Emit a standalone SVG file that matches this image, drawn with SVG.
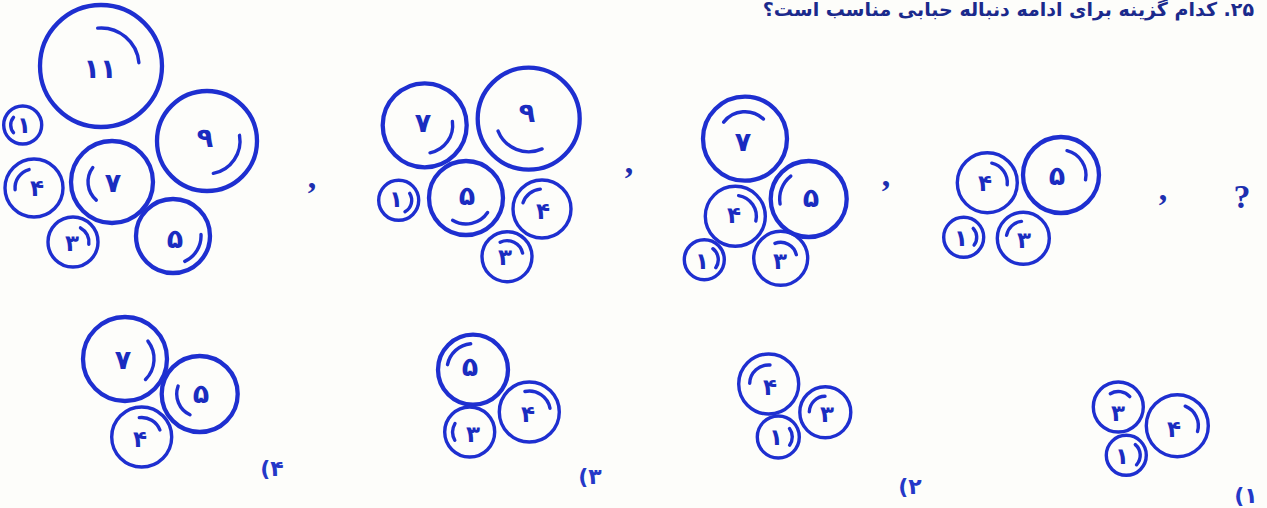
<svg xmlns="http://www.w3.org/2000/svg" width="1267" height="508" viewBox="0 0 1267 508">
<style>
.c{fill:none;stroke:#1e2fd0;stroke-width:3.4}
.cb{fill:none;stroke:#1e2fd0;stroke-width:4.3}
.a{fill:none;stroke:#1e2fd0;stroke-width:3.4;stroke-linecap:round}
.d{font-family:"DejaVu Sans",sans-serif;font-weight:bold;font-size:23px;fill:#1a2cc0;text-anchor:middle}
.db{font-size:27px}
.p{font-family:"Liberation Serif",serif;font-weight:bold;font-size:34px;fill:#1d2fb0;text-anchor:middle}
.o{font-family:"DejaVu Sans",sans-serif;font-weight:bold;font-size:22px;fill:#2438c8;text-anchor:middle;direction:ltr;unicode-bidi:bidi-override}
</style>
<rect width="1267" height="508" fill="#fdfdfa"/>
<text id="title" x="1254" y="16" direction="rtl" font-family="DejaVu Sans, sans-serif" font-weight="bold" font-size="19" fill="#1b2a8c">۲۵. کدام گزینه برای ادامه دنباله حبابی مناسب است؟</text>

<g id="s1">
<g id="s1-11"><circle class="cb" cx="101" cy="66" r="61"/><path class="a" d="M97.7,28.1 A38,38 0 0 1 138.9,62.7"/><text class="d db" x="100" y="78">۱۱</text></g>
<g id="s1-1"><circle class="c" cx="22.7" cy="125" r="19"/><path class="a" d="M13.5,132.7 A12,12 0 0 1 13.5,117.3"/><text class="d" x="24" y="133">۱</text></g>
<g id="s1-4"><circle class="c" cx="34" cy="188" r="29"/><path class="a" d="M15.1,189.7 A19,19 0 0 1 29.1,169.6"/><text class="d" x="37" y="196">۴</text></g>
<g id="s1-7"><circle class="cb" cx="112" cy="182" r="41"/><path class="a" d="M96.3,200.1 A24,24 0 0 1 92.8,167.6"/><text class="d db" x="113" y="192">۷</text></g>
<g id="s1-9"><circle class="cb" cx="207" cy="141" r="50"/><path class="a" d="M239.5,135.3 A33,33 0 0 1 213.3,173.4"/><text class="d db" x="205" y="147">۹</text></g>
<g id="s1-3"><circle class="c" cx="73" cy="242" r="25"/><path class="a" d="M80.5,227.9 A16,16 0 0 1 88.8,244.2"/><text class="d" x="72" y="251">۳</text></g>
<g id="s1-5"><circle class="cb" cx="173" cy="236" r="37"/><path class="a" d="M201,234.5 A28,28 0 0 1 184.8,261.4"/><text class="d db" x="175" y="248">۵</text></g>
</g>
<text class="p" x="312" y="188">,</text>

<g id="s2">
<g id="s2-7"><circle class="cb" cx="424.7" cy="125.3" r="42"/><path class="a" d="M452.4,121.4 A28,28 0 0 1 430,152.8"/><text class="d db" x="423" y="132">۷</text></g>
<g id="s2-9"><circle class="cb" cx="528.7" cy="118.7" r="51"/><path class="a" d="M542.1,148.9 A33,33 0 0 1 498.1,131.1"/><text class="d db" x="527" y="122">۹</text></g>
<g id="s2-1"><circle class="c" cx="398.7" cy="200.3" r="20"/><path class="a" d="M409.7,193.4 A13,13 0 0 1 405,211.7"/><text class="d" x="396" y="207">۱</text></g>
<g id="s2-5"><circle class="cb" cx="466" cy="198" r="37"/><path class="a" d="M487.6,212.5 A26,26 0 0 1 452.6,220.3"/><text class="d db" x="467" y="205">۵</text></g>
<g id="s2-4"><circle class="c" cx="542" cy="209" r="29"/><path class="a" d="M523,202.8 A20,20 0 0 1 540.3,189.1"/><text class="d" x="543" y="219">۴</text></g>
<g id="s2-3"><circle class="c" cx="507" cy="256.7" r="25"/><path class="a" d="M500.2,242.2 A16,16 0 0 1 522.6,253.1"/><text class="d" x="505" y="265">۳</text></g>
</g>
<text class="p" x="629" y="173">,</text>

<g id="s3">
<g id="s3-7"><circle class="cb" cx="745" cy="138.7" r="42"/><path class="a" d="M723.7,122.1 A27,27 0 0 1 763.4,119"/><text class="d db" x="743" y="151">۷</text></g>
<g id="s3-5"><circle class="cb" cx="808.7" cy="199" r="38"/><path class="a" d="M780.1,204 A29,29 0 0 1 790.8,176.1"/><text class="d db" x="811" y="207">۵</text></g>
<g id="s3-4"><circle class="c" cx="735.3" cy="216.3" r="30"/><path class="a" d="M738.6,195.6 A21,21 0 0 1 755.8,221"/><text class="d" x="734" y="223">۴</text></g>
<g id="s3-1"><circle class="c" cx="704.3" cy="259.7" r="20"/><path class="a" d="M712.9,248.7 A14,14 0 0 1 715.8,267.7"/><text class="d" x="702" y="269">۱</text></g>
<g id="s3-3"><circle class="c" cx="780.7" cy="258.3" r="27"/><path class="a" d="M775,243.4 A16,16 0 0 1 796.3,254.7"/><text class="d" x="780" y="269">۳</text></g>
</g>
<text class="p" x="886" y="186">,</text>

<g id="s4">
<g id="s4-4"><circle class="c" cx="987.3" cy="182.7" r="30"/><path class="a" d="M991.8,163.2 A20,20 0 0 1 1007.2,184.8"/><text class="d" x="985" y="191">۴</text></g>
<g id="s4-5"><circle class="cb" cx="1061" cy="175" r="38"/><path class="a" d="M1067,150.7 A25,25 0 0 1 1085.5,179.8"/><text class="d db" x="1057" y="185">۵</text></g>
<g id="s4-1"><circle class="c" cx="963.7" cy="237.3" r="20"/><path class="a" d="M973.2,228.4 A13,13 0 0 1 974.1,245.1"/><text class="d" x="961" y="246">۱</text></g>
<g id="s4-3"><circle class="c" cx="1023.3" cy="238.3" r="26"/><path class="a" d="M1006.6,235.3 A17,17 0 0 1 1021.5,221.4"/><text class="d" x="1024" y="248">۳</text></g>
</g>
<text class="p" x="1163" y="200">,</text>
<text class="p" x="1242" y="208" font-size="36" fill="#1a2a9a">?</text>

<g id="opt4">
<g id="o4-7"><circle class="cb" cx="125" cy="359" r="42"/><path class="a" d="M147.9,341.1 A29,29 0 0 1 145.5,379.5"/><text class="d db" x="123" y="369">۷</text></g>
<g id="o4-5"><circle class="cb" cx="199.7" cy="394" r="38"/><path class="a" d="M190,414.8 A23,23 0 0 1 178.1,386.1"/><text class="d db" x="201" y="403">۵</text></g>
<g id="o4-4"><circle class="c" cx="141.7" cy="437" r="30"/><path class="a" d="M139.3,417.6 A19.5,19.5 0 0 1 159.9,430"/><text class="d" x="140" y="447">۴</text></g>
<text class="o" x="272" y="476">(۴</text>
</g>

<g id="opt3">
<g id="o3-5"><circle class="cb" cx="473" cy="369.7" r="35"/><path class="a" d="M447.5,364.7 A26,26 0 0 1 470.7,343.8"/><text class="d db" x="470" y="376">۵</text></g>
<g id="o3-3"><circle class="c" cx="469.7" cy="432" r="25"/><path class="a" d="M454.8,440.2 A17,17 0 0 1 455,423.5"/><text class="d" x="473" y="442">۳</text></g>
<g id="o3-4"><circle class="c" cx="529.3" cy="412" r="30"/><path class="a" d="M524.9,391.5 A21,21 0 0 1 550,408.3"/><text class="d" x="528" y="422">۴</text></g>
<text class="o" x="590" y="484">(۳</text>
</g>

<g id="opt2">
<g id="o2-4"><circle class="c" cx="768.7" cy="384" r="30"/><path class="a" d="M749.7,383.3 A19,19 0 0 1 770,365"/><text class="d" x="770" y="395">۴</text></g>
<g id="o2-3"><circle class="c" cx="825.3" cy="412.3" r="25.5"/><path class="a" d="M809.3,411.7 A16,16 0 0 1 825,396.3"/><text class="d" x="827" y="422">۳</text></g>
<g id="o2-1"><circle class="c" cx="778.3" cy="437" r="21"/><path class="a" d="M789.5,428.6 A14,14 0 0 1 789.6,445.2"/><text class="d" x="776" y="445">۱</text></g>
<text class="o" x="910" y="494">(۲</text>
</g>

<g id="opt1">
<g id="o1-3"><circle class="c" cx="1118.3" cy="407" r="25"/><path class="a" d="M1110.3,393.7 A15.5,15.5 0 0 1 1129.8,396.6"/><text class="d" x="1118" y="421">۳</text></g>
<g id="o1-4"><circle class="c" cx="1177.3" cy="425.7" r="31"/><path class="a" d="M1185.2,406.2 A21,21 0 0 1 1197.5,431.5"/><text class="d" x="1174" y="437">۴</text></g>
<g id="o1-1"><circle class="c" cx="1126.3" cy="455.3" r="20"/><path class="a" d="M1135.3,444.6 A14,14 0 0 1 1136.5,464.8"/><text class="d" x="1122" y="464">۱</text></g>
<text class="o" x="1246" y="503">(۱</text>
</g>
</svg>
